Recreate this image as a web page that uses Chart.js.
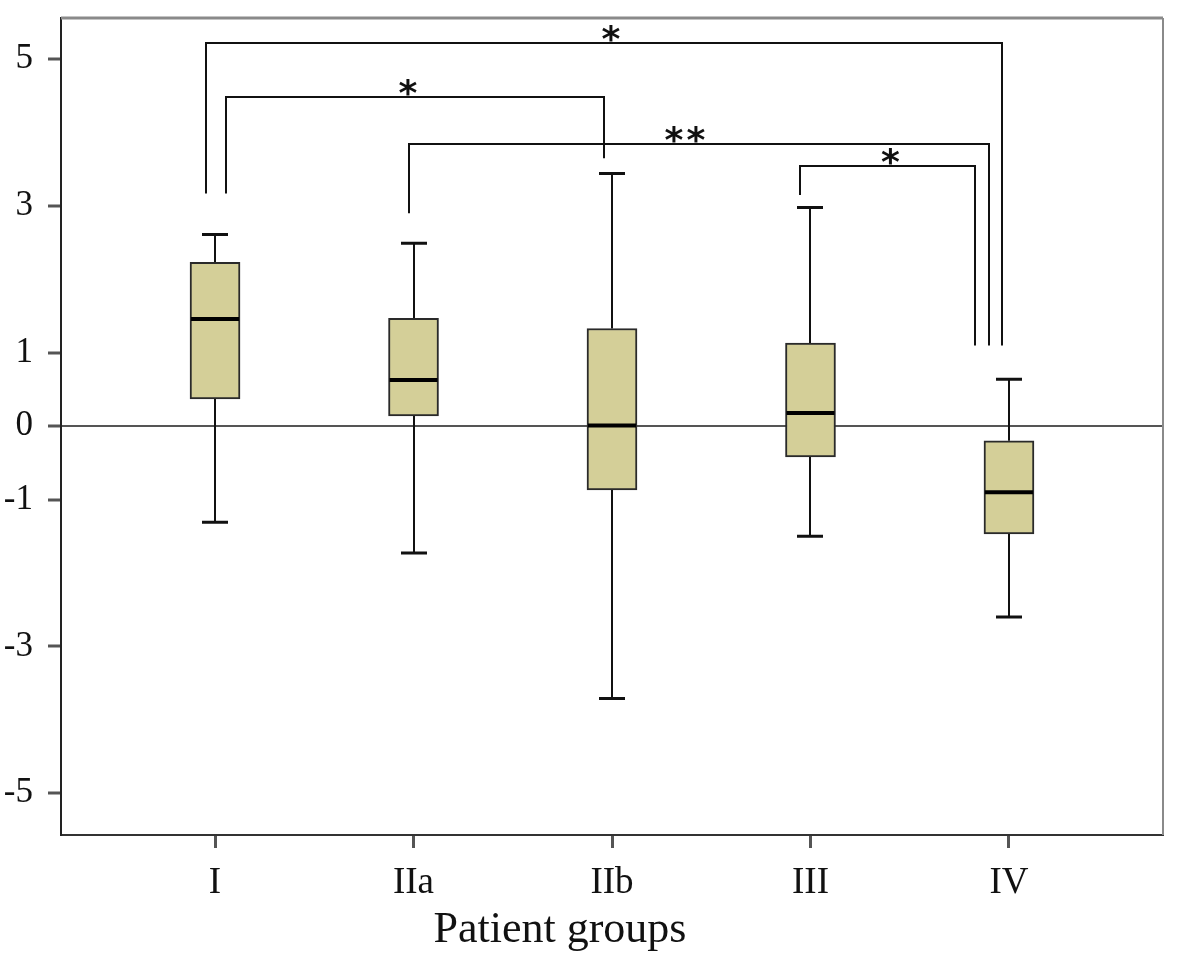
<!DOCTYPE html>
<html>
<head>
<meta charset="utf-8">
<title>Patient groups box plot</title>
<script src="https://cdn.jsdelivr.net/npm/chart.js@4.4.1/dist/chart.umd.min.js"></script>
<style>
  html, body { margin: 0; padding: 0; background: #fff; }
  #wrap { width: 1200px; height: 955px; }
</style>
</head>
<body>
<div id="wrap"><canvas id="boxChart"></canvas></div>
<script>
const groups = ['I', 'IIa', 'IIb', 'III', 'IV'];
const whiskerLow = [-1.31, -1.73, -3.71, -1.50, -2.60];
const quartile1 = [0.37, 0.14, -0.87, -0.42, -1.47];
const medians = [1.46, 0.63, 0.01, 0.18, -0.90];
const quartile3 = [2.23, 1.47, 1.33, 1.13, -0.20];
const whiskerHigh = [2.61, 2.49, 3.44, 2.98, 0.64];
const yTicks = [5, 3, 1, 0, -1, -3, -5];

// significance brackets (group pair, bar level, foot ends, label)
const bracketFrom = [0, 0, 1, 3];
const bracketTo = [4, 2, 4, 4];
const bracketLevel = [5.22, 4.48, 3.84, 3.54];
const bracketFootFrom = [3.17, 3.17, 2.90, 3.15];
const bracketFootTo = [1.10, 3.65, 1.10, 1.10];
const bracketLabels = ['*', '*', '**', '*'];

document.addEventListener('DOMContentLoaded', function () {
    const serif = "'Liberation Serif', 'Times New Roman', serif";

    // small pixel nudges so the bracket feet don't sit on top of each other
    const nudgeFrom = [-9, 11, -5, -10];
    const nudgeTo = [-7, -8, -20, -34];
    const nudgeLabel = [7, -7, -14, 3];

    const boxExtras = {
        id: 'boxExtras',
        beforeDatasetsDraw(chart) {
            const { ctx, scales: { x, y } } = chart;
            ctx.save();
            ctx.strokeStyle = '#111';
            groups.forEach((g, i) => {
                const cx = Math.round(x.getPixelForValue(i));
                // whisker stems
                ctx.lineWidth = 2;
                ctx.beginPath();
                ctx.moveTo(cx, y.getPixelForValue(whiskerHigh[i]));
                ctx.lineTo(cx, y.getPixelForValue(quartile3[i]));
                ctx.moveTo(cx, y.getPixelForValue(quartile1[i]));
                ctx.lineTo(cx, y.getPixelForValue(whiskerLow[i]));
                ctx.stroke();
                // caps
                ctx.lineWidth = 3;
                ctx.beginPath();
                [whiskerHigh[i], whiskerLow[i]].forEach(v => {
                    const py = y.getPixelForValue(v);
                    ctx.moveTo(cx - 13, py);
                    ctx.lineTo(cx + 13, py);
                });
                ctx.stroke();
            });
            ctx.restore();
        },
        afterDatasetsDraw(chart) {
            const { ctx, chartArea: area, scales: { x, y } } = chart;
            ctx.save();

            // medians
            ctx.strokeStyle = '#000';
            ctx.lineWidth = 4;
            groups.forEach((g, i) => {
                const cx = x.getPixelForValue(i);
                const py = y.getPixelForValue(medians[i]);
                ctx.beginPath();
                ctx.moveTo(cx - 24, py);
                ctx.lineTo(cx + 24, py);
                ctx.stroke();
            });

            // top and right frame
            ctx.strokeStyle = '#8a8a8a';
            ctx.lineWidth = 3;
            ctx.beginPath();
            ctx.moveTo(area.left, area.top);
            ctx.lineTo(area.right, area.top);
            ctx.stroke();
            ctx.lineWidth = 2;
            ctx.beginPath();
            ctx.moveTo(area.right, area.top);
            ctx.lineTo(area.right, area.bottom);
            ctx.stroke();

            // significance brackets
            ctx.strokeStyle = '#111';
            ctx.lineWidth = 2;
            ctx.fillStyle = '#111';
            ctx.font = "bold 36px 'DejaVu Sans', sans-serif";
            ctx.textAlign = 'center';
            ctx.textBaseline = 'alphabetic';
            bracketFrom.forEach((from, k) => {
                const x1 = Math.round(x.getPixelForValue(from)) + nudgeFrom[k];
                const x2 = Math.round(x.getPixelForValue(bracketTo[k])) + nudgeTo[k];
                const top = Math.round(y.getPixelForValue(bracketLevel[k]));
                ctx.beginPath();
                ctx.moveTo(x1, y.getPixelForValue(bracketFootFrom[k]));
                ctx.lineTo(x1, top);
                ctx.lineTo(x2, top);
                ctx.lineTo(x2, y.getPixelForValue(bracketFootTo[k]));
                ctx.stroke();
                const stars = bracketLabels[k].length;
                const mid = (x1 + x2) / 2 + nudgeLabel[k];
                for (let s = 0; s < stars; s++) {
                    ctx.fillText('*', mid + (s - (stars - 1) / 2) * 22, top + 8);
                }
            });

            // axis title
            ctx.fillStyle = '#111';
            ctx.font = '44px ' + serif;
            ctx.textAlign = 'center';
            ctx.textBaseline = 'alphabetic';
            ctx.fillText('Patient groups', (area.left + area.right) / 2 - 52, 942);

            ctx.restore();
        }
    };

    new Chart(document.getElementById('boxChart'), {
        type: 'bar',
        data: {
            datasets: [{
                label: 'Interquartile range',
                data: groups.map((g, i) => ({ x: i, y: [quartile1[i], quartile3[i]] })),
                backgroundColor: '#d4cf98',
                borderColor: '#2a2a2a',
                borderWidth: 2,
                borderSkipped: false,
                barThickness: 50
            }]
        },
        options: {
            responsive: true,
            maintainAspectRatio: false,
            animation: false,
            layout: { padding: { top: 18, right: 37, left: 0, bottom: 0 } },
            scales: {
                x: {
                    type: 'linear',
                    offset: false,
                    min: -0.776,
                    max: 4.776,
                    afterBuildTicks: scale => {
                        scale.ticks = groups.map((g, i) => ({ value: i }));
                    },
                    afterFit: scale => {
                        scale.height = 120;
                        scale.paddingLeft = 0;
                        scale.paddingRight = 0;
                    },
                    border: { color: '#333', width: 2 },
                    grid: {
                        offset: false,
                        drawOnChartArea: false,
                        tickLength: 13,
                        tickColor: '#555',
                        tickWidth: 3
                    },
                    ticks: {
                        padding: 13,
                        color: '#111',
                        font: { family: serif, size: 37 },
                        callback: value => groups[value]
                    }
                },
                y: {
                    min: -5.57,
                    max: 5.56,
                    afterBuildTicks: scale => {
                        scale.ticks = yTicks.map(v => ({ value: v }));
                    },
                    afterFit: scale => {
                        scale.width = 61;
                        scale.paddingTop = 0;
                        scale.paddingBottom = 0;
                    },
                    border: { color: '#222', width: 2 },
                    grid: {
                        color: ctx => (ctx.tick && ctx.tick.value === 0 ? '#555' : 'rgba(0,0,0,0)'),
                        lineWidth: 2,
                        tickLength: 13,
                        tickColor: '#555',
                        tickWidth: 3
                    },
                    ticks: {
                        padding: 15,
                        color: '#111',
                        font: { family: serif, size: 35 }
                    }
                }
            },
            plugins: {
                legend: { display: false },
                tooltip: { enabled: false }
            }
        },
        plugins: [boxExtras]
    });
});
</script>
</body>
</html>
